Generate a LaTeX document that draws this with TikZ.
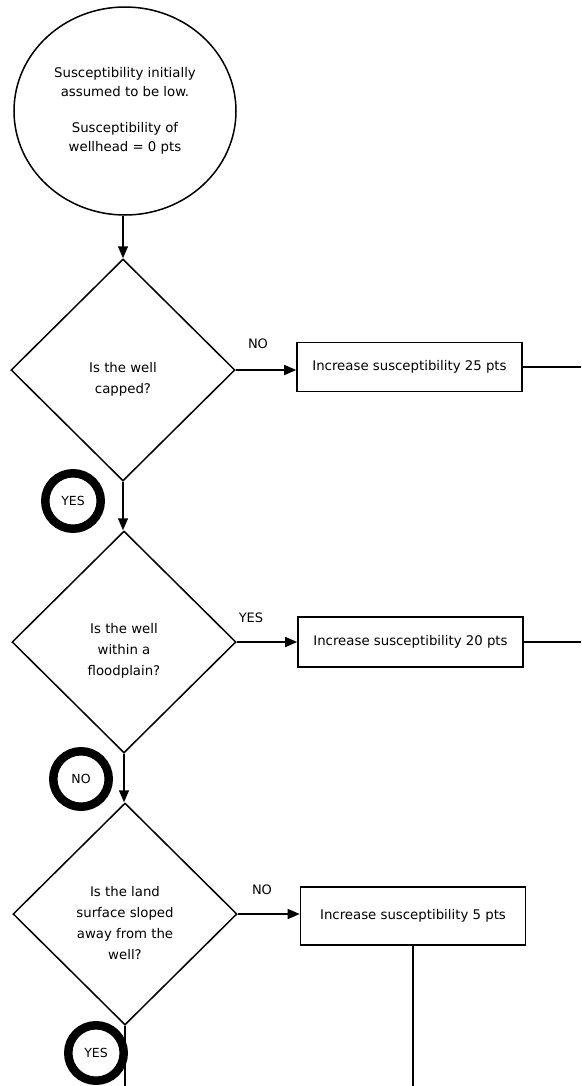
\documentclass[tikz,border=0pt]{standalone}
\usepackage{fontspec}
\setmainfont{DejaVu Sans}
\usetikzlibrary{shapes.geometric,arrows.meta}
\begin{document}
\begin{tikzpicture}[x=1pt,y=-1pt,
  txt/.style={font=\fontsize{13.3}{21}\selectfont, align=center},
  qtext/.style={txt, yshift=-9pt},
  startnode/.style={draw, line width=1.5pt, ellipse, minimum width=222pt, minimum height=208pt,
    inner sep=0pt, align=center, font=\fontsize{13.3}{19}\selectfont},
  decision/.style={draw, line width=1.5pt, diamond, minimum width=224pt, minimum height=222pt,
    inner sep=0pt},
  action/.style={draw, line width=1.6pt, rectangle, minimum width=225pt, inner sep=0pt, txt},
  ring/.style={draw, circle, line width=8.5pt, minimum size=55.5pt, inner sep=0pt,
    font=\fontsize{12.5}{14}\selectfont},
  answer/.style={font=\fontsize{13}{14}\selectfont},
  flow/.style={line width=1.5pt, -{Triangle[length=12pt,width=10pt]}},
  link/.style={line width=1.6pt}
]
\useasboundingbox (0,0) rectangle (581,1086);

% start state
\node[startnode] (start) at (125,111)
  {Susceptibility initially\\assumed to be low.\\[17pt]Susceptibility of\\wellhead = 0 pts};

% questions
\node[decision, label={[qtext]center:{Is the well\\capped?}}] (d1) at (123,370) {};
\node[decision, label={[qtext]center:{Is the well\\within a\\floodplain?}}] (d2) at (124,642) {};
\node[decision, label={[qtext]center:{Is the land\\surface sloped\\away from the\\well?}}] (d3) at (125,914) {};

% score increments
\node[action, minimum height=49pt] (b1) at (409.5,367) {Increase susceptibility 25 pts};
\node[action, minimum height=50pt] (b2) at (410.5,642) {Increase susceptibility 20 pts};
\node[action, minimum height=58pt] (b3) at (413,916) {Increase susceptibility 5 pts};

% answers on the main path
\node[ring] (r1) at (73,501) {YES};
\node[ring] (r2) at (81,779) {NO};
\node[ring] (r3) at (96,1053) {YES};

% answers on the side branches
\node[answer] (l1) at (258,344) {NO};
\node[answer] (l2) at (251,618) {YES};
\node[answer] (l3) at (262,890) {NO};

% open ends at the page edges
\coordinate (edge) at (581,0);
\coordinate (floor) at (0,1086);

% main path
\draw[flow] (start.south -| d1.north) -- (d1.north);
\draw[flow] (d1.south) -- (d1.south |- d2.north);
\draw[flow] (d2.south) -- (d2.south |- d3.north);
\draw[link] (d3.south) -- (d3.south |- floor);

% side branches
\draw[flow] (d1.east) -- (d1.east -| b1.west);
\draw[flow] (d2.east) -- (d2.east -| b2.west);
\draw[flow] (d3.east) -- (d3.east -| b3.west);
\draw[link] (b1.east) -- (b1.east -| edge);
\draw[link] (b2.east) -- (b2.east -| edge);
\draw[link] (b3.south) -- (b3.south |- floor);
\end{tikzpicture}
\end{document}
